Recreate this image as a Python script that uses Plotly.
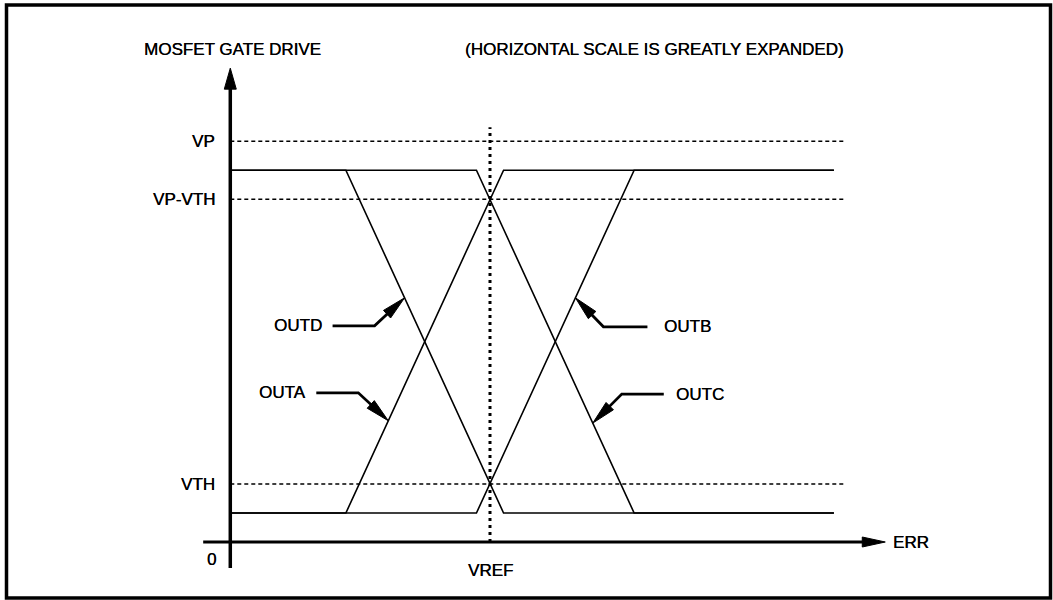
import numpy as np
import plotly.graph_objects as go

# ---------------- data (diagram units) ----------------
# x: ERR relative to VREF (arbitrary, horizontal scale expanded)
# y: MOSFET gate drive, in units of VTH
VREF = 0.0
level_names = ["VP", "VP-VTH", "VTH"]
level_values = [6.91, 5.91, 1.0]
zero_label = "0"
drive_high = 6.41
drive_low = 0.5
err_left = -18.2      # y axis position / start of plateaus
err_right = 24.1      # end of plateaus
guide_right = 24.9    # end of dashed guide lines
vref_top = 7.15
x_axis_left = -20.1
x_axis_tip = 27.7
y_axis_bottom = -0.45
y_axis_tip = 8.17

outa_x = [-18.2, -10.1, 0.95, 24.1]
outa_y = [0.5, 0.5, 6.41, 6.41]
outd_x = [-18.2, -10.1, 0.95, 24.1]
outd_y = [6.41, 6.41, 0.5, 0.5]
outb_x = [-18.2, -0.95, 10.1, 24.1]
outb_y = [0.5, 0.5, 6.41, 6.41]
outc_x = [-18.2, -0.95, 10.1, 24.1]
outc_y = [6.41, 6.41, 0.5, 0.5]

callout_names = ["OUTD", "OUTA", "OUTB", "OUTC"]
callout_tip_y = [4.21, 2.09, 4.21, 2.05]

# ---------------- layout geometry ----------------
W, H = 1053, 600
XR = [-34.338, 39.453]
YR = [-1.0, 9.345]
SX = W / (XR[1] - XR[0])
SY = H / (YR[1] - YR[0])
INK = "#000000"
FONT = "Liberation Sans, Arial, Helvetica, sans-serif"
FS = 17
SHADOW = "0.35px 0px 0px #000"


def to_px(x, y):
    return (x - XR[0]) * SX, (YR[1] - y) * SY


def from_px(px, py):
    return px / SX + XR[0], YR[1] - py / SY


fig = go.Figure()


def add_line(xs, ys, width, dash=None):
    fig.add_trace(go.Scatter(x=xs, y=ys, mode="lines",
                             line=dict(color=INK, width=width, dash=dash),
                             hoverinfo="skip", showlegend=False))


def add_head(tip_x, tip_y, dir_px, length, half_w):
    tx, ty = to_px(tip_x, tip_y)
    d = np.array(dir_px, dtype=float)
    d /= np.linalg.norm(d)
    p = np.array([-d[1], d[0]])
    base = np.array([tx, ty]) - d * length
    pts = [(tx, ty), tuple(base + p * half_w), tuple(base - p * half_w), (tx, ty)]
    xs, ys = zip(*[from_px(*q) for q in pts])
    fig.add_trace(go.Scatter(x=list(xs), y=list(ys), mode="lines", fill="toself",
                             fillcolor=INK, line=dict(color=INK, width=1),
                             hoverinfo="skip", showlegend=False))


def text(x, y, s, xanchor="center", xref="x", yref="y"):
    fig.add_annotation(x=x, y=y, xref=xref, yref=yref, text=s, showarrow=False,
                       xanchor=xanchor, yanchor="middle",
                       font=dict(family=FONT, size=FS, color=INK, shadow=SHADOW))


# dashed guide levels
for v in level_values:
    add_line([err_left, guide_right], [v, v], 1.3, "4px,3px")

# vertical dotted VREF line
add_line([VREF, VREF], [0, vref_top], 3, "3px,4px")

# output traces
for xs, ys in [(outa_x, outa_y), (outd_x, outd_y), (outb_x, outb_y), (outc_x, outc_y)]:
    add_line(xs, ys, 1.6)

# axes
add_line([err_left, err_left], [y_axis_bottom, y_axis_tip - 18 / SY], 3.5)
add_head(err_left, y_axis_tip, (0, -1), 21, 6)
add_line([x_axis_left, x_axis_tip - 20 / SX], [0, 0], 3.2)
add_head(x_axis_tip, 0, (1, 0), 23, 5)

# level labels
lab_x = from_px(to_px(err_left, 0)[0] - 13, 0)[0]
for n, v in zip(level_names, level_values):
    text(lab_x, v, n, xanchor="right")
text(lab_x + 1 / SX, from_px(0, to_px(0, 0)[1] + 17)[1], zero_label, xanchor="right")
text(VREF, from_px(0, to_px(0, 0)[1] + 28)[1], "VREF")
text(x_axis_tip + 6 / SX, 0, "ERR", xanchor="left")

# titles
text(142 / W, 1 - 49 / H, "MOSFET GATE DRIVE", xanchor="left", xref="paper", yref="paper")
text(463 / W, 1 - 49 / H, "(HORIZONTAL SCALE IS GREATLY EXPANDED)", xanchor="left",
     xref="paper", yref="paper")

# callouts
series = {"OUTA": (outa_x, outa_y), "OUTB": (outb_x, outb_y),
          "OUTC": (outc_x, outc_y), "OUTD": (outd_x, outd_y)}
side = {"OUTD": -1, "OUTA": -1, "OUTB": 1, "OUTC": 1}
elbow_dx = {"OUTD": 30, "OUTA": 30, "OUTB": 28, "OUTC": 29}
elbow_dy = {"OUTD": 28, "OUTA": -28, "OUTB": 29, "OUTC": -29}
horiz = {"OUTD": 42, "OUTA": 42, "OUTB": 44, "OUTC": 42}
gap = {"OUTD": 9, "OUTA": 8, "OUTB": 15, "OUTC": 10}

for name, ty in zip(callout_names, callout_tip_y):
    xs, ys = series[name]
    x1, x2, y1, y2 = xs[1], xs[2], ys[1], ys[2]
    tx = x1 + (ty - y1) * (x2 - x1) / (y2 - y1)
    tpx, tpy = to_px(tx, ty)
    s = side[name]
    epx, epy = tpx + s * elbow_dx[name], tpy + elbow_dy[name]
    hpx = epx + s * horiz[name]
    d = np.array([tpx - epx, tpy - epy])
    dn = d / np.linalg.norm(d)
    spx, spy = np.array([tpx, tpy]) - dn * 12
    pts = [from_px(hpx, epy), from_px(epx, epy), from_px(spx, spy)]
    add_line([p[0] for p in pts], [p[1] for p in pts], 2.8)
    add_head(tx, ty, d, 24, 5.2)
    lx = from_px(hpx + s * gap[name], 0)[0]
    text(lx, from_px(0, epy)[1], name, xanchor="left" if s > 0 else "right")

# frame
fig.add_shape(type="rect", xref="paper", yref="paper",
              x0=6.5 / W, x1=1050.5 / W, y0=1 - 598 / H, y1=1 - 5 / H,
              line=dict(color=INK, width=3.5))

fig.update_layout(
    width=W, height=H,
    margin=dict(l=0, r=0, t=0, b=0),
    paper_bgcolor="white", plot_bgcolor="white",
    xaxis=dict(range=XR, visible=False, fixedrange=True),
    yaxis=dict(range=YR, visible=False, fixedrange=True),
    showlegend=False,
)

fig.write_html("out.html",
               config={"displayModeBar": False, "staticPlot": True},
               post_script="document.body.style.margin='0';"
                           "document.body.style.overflow='hidden';")
